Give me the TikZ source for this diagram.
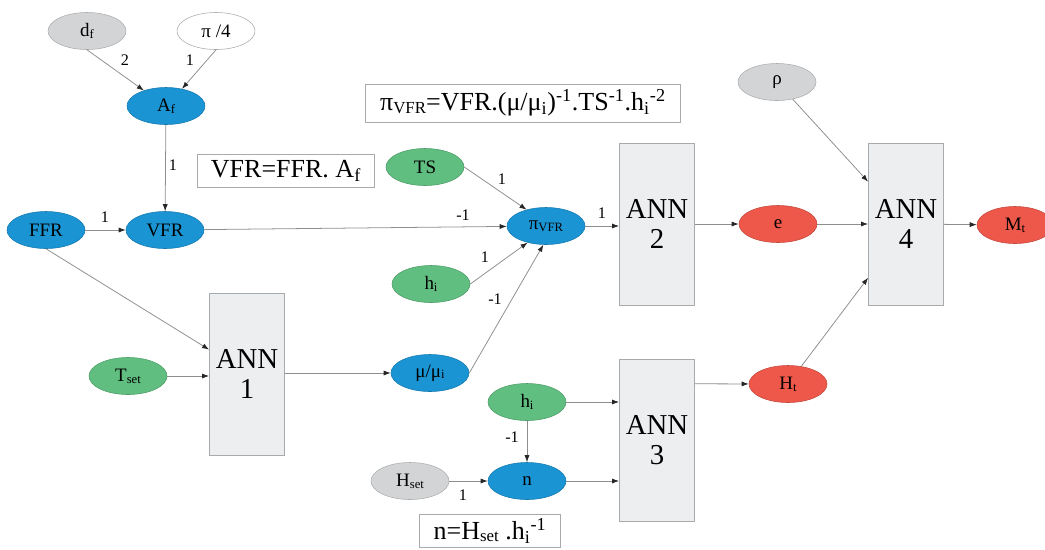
\documentclass[tikz,border=0pt]{standalone}
\usepackage{fontspec}
\setmainfont{Liberation Serif}
\usetikzlibrary{arrows.meta,calc,shapes.geometric}

\definecolor{vblue}{HTML}{1B94D4}
\definecolor{vgreen}{HTML}{60BE80}
\definecolor{vred}{HTML}{EE584B}
\definecolor{vgray}{HTML}{D2D4D6}
\definecolor{boxfill}{HTML}{ECEEF0}
\definecolor{boxedge}{HTML}{A8ABAE}
\definecolor{linegray}{HTML}{8E8E8E}

% small low index letters used inside the variable ellipses
\newcommand\lowidx[1]{\raisebox{-0.2ex}{\fontsize{9}{9}\selectfont #1}}

\begin{document}
\begin{tikzpicture}[x=0.025cm,y=-0.025cm,
  var/.style={ellipse, minimum width=1.95cm, minimum height=0.925cm, inner sep=0pt,
    font=\fontsize{13.5}{14}\selectfont, fill=#1, draw=#1!82!black, line width=0.4pt},
  var/.default=vblue,
  ann/.style={rectangle, minimum width=1.875cm, minimum height=4.05cm, inner sep=0pt,
    align=center, fill=boxfill, draw=boxedge, line width=0.6pt,
    font=\fontsize{20.5}{21.5}\selectfont},
  formula/.style={rectangle, inner sep=0pt, fill=white, draw=boxedge, line width=0.6pt,
    font=\fontsize{18.5}{20}\selectfont},
  lbl/.style={inner sep=0pt, font=\fontsize{11.5}{12}\selectfont},
  arr/.style={draw=linegray, line width=0.55pt,
    -{Latex[length=5pt,width=3.6pt,color=black!85]}},
]
\useasboundingbox (0,0) rectangle (1045,549);

% variables
\node[var=vgray] (df) at (87,31) {d\lowidx{f}};
\node[var=white, draw=boxedge] (pi4) at (216,31) {π /4};
\node[var] (Af) at (166,106) {A\lowidx{f}};
\node[var] (FFR) at (46,230) {FFR};
\node[var] (VFR) at (165,230) {VFR};
\node[var=vgreen] (TS) at (425,167) {TS};
\node[var] (piv) at (546,226) {π\lowidx{VFR}};
\node[var=vgreen] (hi1) at (431,284) {h\lowidx{i}};
\node[var=vgreen] (Tset) at (128,376) {T\lowidx{set}};
\node[var] (mu) at (430,373) {μ/μ\lowidx{i}};
\node[var=vgreen] (hi2) at (527,402) {h\lowidx{i}};
\node[var] (n) at (527,481) {n};
\node[var=vgray] (Hset) at (410,481) {H\lowidx{set}};
\node[var=vgray] (rho) at (777,82) {ρ};
\node[var=vred] (e) at (778,224) {e};
\node[var=vred] (Ht) at (788,384) {H\lowidx{t}};
\node[var=vred, minimum width=1.9cm] (Mt) at (1015,225) {M\lowidx{t}};

% networks
\node[ann] (ANN1) at (247,374) {ANN\\1};
\node[ann] (ANN2) at (657,224) {ANN\\2};
\node[ann] (ANN3) at (657,440) {ANN\\3};
\node[ann] (ANN4) at (906,224) {ANN\\4};

% formulas
\node[formula, minimum width=4.425cm, minimum height=0.825cm] (fVFR) at (286,171)
  {VFR=FFR. A\textsubscript{f}};
\node[formula, minimum width=7.875cm, minimum height=0.95cm] (fpi) at (523,103)
  {π\lowidx{\fontsize{12}{12}\selectfont VFR}=VFR.(μ/μ\textsubscript{i})\textsuperscript{-1}.TS\textsuperscript{-1}.h\textsubscript{i}\textsuperscript{-2}};
\node[formula, minimum width=3.525cm, minimum height=0.825cm] (fn) at (490,531)
  {n=H\lowidx{\fontsize{12}{12}\selectfont set} .h\textsubscript{i}\textsuperscript{-1}};

% connectors
\draw[arr] (df.south) -- (Af.145);
\draw[arr] (pi4.south) -- (Af.47);
\draw[arr] (Af) -- (VFR);
\draw[arr] (FFR) -- (VFR);
\draw[arr] (VFR) -- (piv);
\draw[arr] (TS.east) -- (piv.140);
\draw[arr] (hi1.east) -- (piv.222);
\draw[arr] (mu.east) -- (piv.262);
\draw[arr] (piv) -- (piv -| ANN2.west);
\draw[arr] (ANN2) -- (e);
\draw[arr] (e) -- (ANN4);
\draw[arr] (ANN4) -- (Mt);
\draw[arr] (rho) -- ($(ANN4.north west)!0.24!(ANN4.south west)$);
\draw[arr] (Ht) -- ($(ANN4.north west)!0.83!(ANN4.south west)$);
\draw[arr] ($(ANN3.north east)!0.155!(ANN3.south east)$) -- (Ht);
\draw[arr] (hi2) -- (hi2 -| ANN3.west);
\draw[arr] (n) -- (n -| ANN3.west);
\draw[arr] (hi2) -- (n);
\draw[arr] (Hset) -- (n);
\draw[arr] (FFR.south) -- ($(ANN1.north west)!0.35!(ANN1.south west)$);
\draw[arr] (Tset) -- (Tset -| ANN1.west);
\draw[arr] (ANN1.east |- mu) -- (mu);

% exponents on the connectors
\node[lbl] (l1) at (125,60) {2};
\node[lbl] (l2) at (190,60) {1};
\node[lbl] (l3) at (173,165) {1};
\node[lbl] (l4) at (105,217) {1};
\node[lbl] (l5) at (463,215) {-1};
\node[lbl] (l6) at (502,179) {1};
\node[lbl] (l7) at (485,257) {1};
\node[lbl] (l8) at (495,299) {-1};
\node[lbl] (l9) at (602,213) {1};
\node[lbl] (l10) at (512,437) {-1};
\node[lbl] (l11) at (463,495) {1};
\end{tikzpicture}
\end{document}
